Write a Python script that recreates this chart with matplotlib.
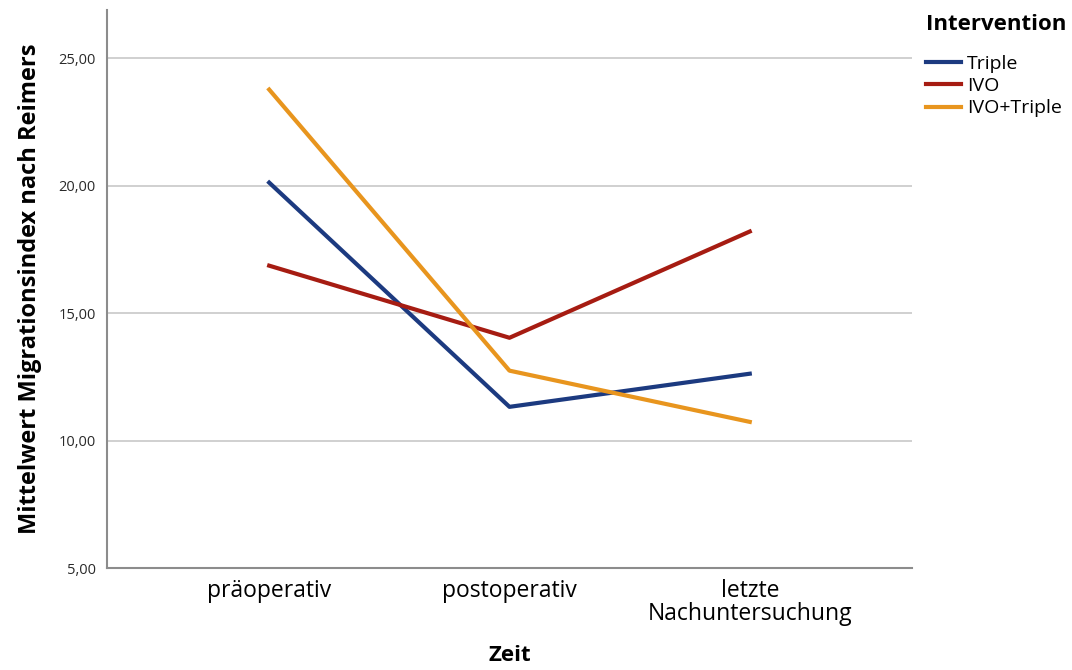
import matplotlib
matplotlib.use('Agg')
import matplotlib.pyplot as plt

zeitpunkte = ['präoperativ', 'postoperativ', 'letzte\nNachuntersuchung']
gruppen = ['Triple', 'IVO', 'IVO+Triple']
triple = [20.13, 11.33, 12.63]
ivo = [16.87, 14.04, 18.21]
ivo_triple = [23.78, 12.75, 10.74]
farben = ['#1c3a80', '#a61c12', '#e8951e']
y_ticks = [5, 10, 15, 20, 25]

plt.rcParams['font.family'] = ['Open Sans', 'DejaVu Sans']

fig = plt.figure(figsize=(10.72, 6.7), dpi=100)
ax = fig.add_axes([0.0998, 0.152, 0.7509, 0.833])

x = list(range(len(zeitpunkte)))
for werte, name, farbe in zip([triple, ivo, ivo_triple], gruppen, farben):
    ax.plot(x, werte, color=farbe, linewidth=3, label=name, zorder=3)

ax.set_xlim(-0.675, 2.675)
ax.set_ylim(5, 26.9)
ax.set_yticks(y_ticks)
ax.set_yticklabels(['%d,00' % v for v in y_ticks], fontsize=10.5, color='#2a2a2a')
ax.set_xticks(x)
ax.set_xticklabels(zeitpunkte, fontsize=16.5, linespacing=0.92)
ax.tick_params(length=0, pad=8)
ax.tick_params(axis='x', pad=8)
ax.yaxis.grid(True, color='#c8c8c8', linewidth=1.2)
ax.set_axisbelow(True)
for s in ['top', 'right']:
    ax.spines[s].set_visible(False)
for s in ['left', 'bottom']:
    ax.spines[s].set_color('#8c8c8c')
    ax.spines[s].set_linewidth(1.5)

ax.set_ylabel('Mittelwert Migrationsindex nach Reimers', fontsize=17, fontweight='bold', labelpad=12)
ax.set_xlabel('Zeit', fontsize=16, fontweight='bold', labelpad=14)

leg = fig.legend(loc='upper left', bbox_to_anchor=(0.857, 0.99), frameon=False,
                 title='Intervention', fontsize=14, handlelength=1.8, handletextpad=0.3,
                 labelspacing=0.22, borderaxespad=0)
leg.get_title().set_fontweight('bold')
leg.get_title().set_fontsize(16)
leg._legend_box.align = 'left'
leg._legend_box.sep = 14

fig.savefig('out.png', dpi=100)
